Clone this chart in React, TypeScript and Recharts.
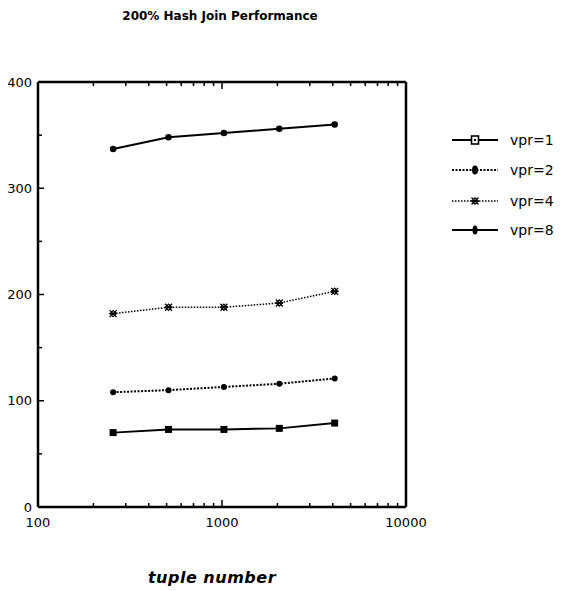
import React from 'react';
import { LineChart, Line, XAxis, YAxis } from 'recharts';

const tupleNumbers = [256, 512, 1024, 2048, 4096];
const vpr1 = [70, 73, 73, 74, 79];
const vpr2 = [108, 110, 113, 116, 121];
const vpr4 = [182, 188, 188, 192, 203];
const vpr8 = [337, 348, 352, 356, 360];
const seriesNames = ['vpr=1', 'vpr=2', 'vpr=4', 'vpr=8'];
const xTicks = [100, 200, 300, 400, 500, 600, 700, 800, 900, 1000, 2000, 3000, 4000, 5000, 6000, 7000, 8000, 9000, 10000];
const xMajor = [100, 1000, 10000];
const yTicks = [0, 50, 100, 150, 200, 250, 300, 350, 400];
const yMajor = [0, 100, 200, 300, 400];
const titleText = '200% Hash Join Performance';
const xTitle = 'tuple number';

const data = tupleNumbers.map((t, i) => ({ t, vpr1: vpr1[i], vpr2: vpr2[i], vpr4: vpr4[i], vpr8: vpr8[i] }));

const FONT = '"DejaVu Sans", Verdana, sans-serif';

const SquareMark = ({ cx, cy, hollow }: any) =>
  hollow ? (
    <g>
      <rect x={cx - 3.5} y={cy - 4} width={7} height={8} fill="#fff" stroke="#000" strokeWidth={1.6} />
      <rect x={cx - 1} y={cy - 1} width={2} height={2} fill="#000" />
    </g>
  ) : (
    <rect x={cx - 3.5} y={cy - 3.5} width={7} height={7} fill="#000" />
  );
const SmallDot = ({ cx, cy, rx = 3, ry = 3 }: any) => <ellipse cx={cx} cy={cy} rx={rx} ry={ry} fill="#000" />;
const CrossMark = ({ cx, cy }: any) => (
  <g stroke="#000" strokeWidth={1.2} fill="none">
    <line x1={cx - 3.5} y1={cy - 3.5} x2={cx + 3.5} y2={cy + 3.5} />
    <line x1={cx - 3.5} y1={cy + 3.5} x2={cx + 3.5} y2={cy - 3.5} />
    <rect x={cx - 2.2} y={cy - 2.2} width={4.4} height={4.4} transform={`rotate(45 ${cx} ${cy})`} />
    <line x1={cx - 4} y1={cy} x2={cx + 4} y2={cy} />
  </g>
);

const dot1 = (p: any) => <SquareMark key={p.index} cx={p.cx} cy={p.cy} />;
const dot2 = (p: any) => <SmallDot key={p.index} cx={p.cx} cy={p.cy} rx={3} ry={3} />;
const dot4 = (p: any) => <CrossMark key={p.index} cx={p.cx} cy={p.cy} />;
const dot8 = (p: any) => <SmallDot key={p.index} cx={p.cx} cy={p.cy} rx={3.3} ry={3.3} />;

const BottomTick = (props: any) => {
  const { x, y, payload } = props;
  const major = xMajor.includes(payload.value);
  return (
    <g>
      <line x1={x} x2={x} y1={y} y2={y - (major ? 7 : 4)} stroke="#000" strokeWidth={1.5} />
      {major && (
        <text x={x} y={y + 20} textAnchor="middle" fontSize={13} fontFamily={FONT} fill="#000">
          {payload.value}
        </text>
      )}
    </g>
  );
};
const TopTick = (props: any) => {
  const { x, y, payload } = props;
  const major = xMajor.includes(payload.value);
  return <line x1={x} x2={x} y1={y} y2={y + (major ? 7 : 4)} stroke="#000" strokeWidth={1.5} />;
};
const LeftTick = (props: any) => {
  const { x, y, payload } = props;
  const major = yMajor.includes(payload.value);
  return (
    <g>
      <line x1={x} x2={x + (major ? 6 : 4)} y1={y} y2={y} stroke="#000" strokeWidth={1.5} />
      {major && (
        <text x={x - 6} y={y} dy="0.35em" textAnchor="end" fontSize={13} fontFamily={FONT} fill="#000">
          {payload.value}
        </text>
      )}
    </g>
  );
};
const NoTick = () => <g />;

const legendStyles = [
  { dash: undefined, width: 2, mark: (cx: number, cy: number) => <SquareMark cx={cx} cy={cy} hollow /> },
  { dash: '2 1.5', width: 2, mark: (cx: number, cy: number) => <SmallDot cx={cx} cy={cy} rx={3} ry={4.5} /> },
  { dash: '1.5 1.5', width: 1.5, mark: (cx: number, cy: number) => <CrossMark cx={cx} cy={cy} /> },
  { dash: undefined, width: 2, mark: (cx: number, cy: number) => <SmallDot cx={cx} cy={cy} rx={2.5} ry={4.5} /> },
];
const legendRows = [12, 42, 73, 102];

export default function App() {
  return (
    <div style={{ position: 'relative', width: 558, height: 583, background: '#fff' }}>
      <div
        style={{
          position: 'absolute', left: 0, width: 424, top: 1, textAlign: 'center',
          fontFamily: FONT, fontWeight: 'bold', fontSize: 12, lineHeight: '14px', color: '#000',
        }}
      >
        {titleText}
      </div>
      <LineChart width={558} height={583} data={data} margin={{ top: 73, left: 0, right: 159, bottom: 54 }}>
        <XAxis
          dataKey="t" type="number" scale="log" domain={[100, 10000]} ticks={xTicks} interval={0}
          allowDataOverflow tickSize={0} tickMargin={0} tickLine={false} tick={BottomTick}
          axisLine={{ stroke: '#000', strokeWidth: 2.5 }} height={30}
        />
        <XAxis
          xAxisId="top" orientation="top" dataKey="t" type="number" scale="log" domain={[100, 10000]}
          ticks={xTicks} interval={0} allowDataOverflow tickSize={0} tickMargin={0} tickLine={false}
          tick={TopTick} axisLine={{ stroke: '#000', strokeWidth: 2.5 }} height={1}
        />
        <YAxis
          type="number" domain={[0, 400]} ticks={yTicks} interval={0} allowDataOverflow width={30}
          tickSize={0} tickMargin={0} tickLine={false} tick={LeftTick}
          axisLine={{ stroke: '#000', strokeWidth: 2.5 }}
        />
        <YAxis
          yAxisId="right" orientation="right" type="number" domain={[0, 400]} ticks={yTicks}
          allowDataOverflow width={1} tickSize={0} tickMargin={0} tickLine={false} tick={NoTick}
          axisLine={{ stroke: '#000', strokeWidth: 2.5 }}
        />
        <Line xAxisId="top" yAxisId="right" dataKey="vpr1" stroke="none" dot={false} isAnimationActive={false} legendType="none" />
        <Line dataKey="vpr1" stroke="#000" strokeWidth={2} dot={dot1} isAnimationActive={false} />
        <Line dataKey="vpr2" stroke="#000" strokeWidth={2} strokeDasharray="2 1.5" dot={dot2} isAnimationActive={false} />
        <Line dataKey="vpr4" stroke="#000" strokeWidth={1.5} strokeDasharray="1.5 1.5" dot={dot4} isAnimationActive={false} />
        <Line dataKey="vpr8" stroke="#000" strokeWidth={2} dot={dot8} isAnimationActive={false} />
      </LineChart>
      <svg style={{ position: 'absolute', left: 440, top: 120 }} width={118} height={120}>
        {seriesNames.map((name, i) => (
          <g key={name}>
            <line x1={4} x2={50} y1={legendRows[i]} y2={legendRows[i]} stroke="#000"
              strokeWidth={legendStyles[i].width} strokeDasharray={legendStyles[i].dash} />
            {legendStyles[i].mark(27, legendRows[i])}
            <text x={62} y={legendRows[i]} dy="0.35em" fontSize={14} fontFamily={FONT} fill="#000">
              {name}
            </text>
          </g>
        ))}
      </svg>
      <div
        style={{
          position: 'absolute', left: 104, width: 200, top: 560, textAlign: 'center',
          fontFamily: FONT, fontWeight: 'bold', fontStyle: 'italic', fontSize: 16, lineHeight: '20px',
          color: '#000', letterSpacing: 0.5,
        }}
      >
        {xTitle}
      </div>
    </div>
  );
}
